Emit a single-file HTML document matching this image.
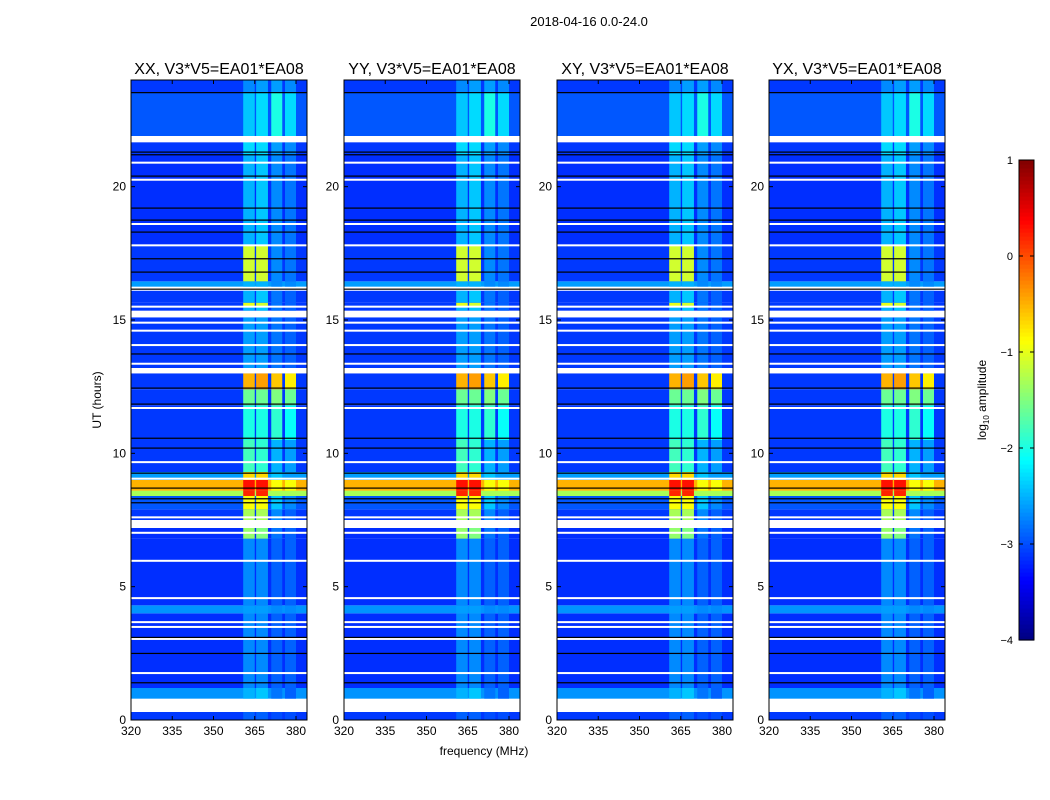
<!DOCTYPE html>
<html><head><meta charset="utf-8"><style>
body{margin:0;background:#fff;}
svg{display:block;font-family:"Liberation Sans","DejaVu Sans",sans-serif;}
</style></head><body>
<svg id="fig" width="1050" height="800" viewBox="0 0 1050 800" xmlns="http://www.w3.org/2000/svg">
<rect width="1050" height="800" fill="#fff"/>
<text x="589" y="26" font-size="13" text-anchor="middle">2018-04-16 0.0-24.0</text>
<text x="484" y="755" font-size="12" text-anchor="middle">frequency (MHz)</text>
<text transform="translate(101,400) rotate(-90)" font-size="12" text-anchor="middle">UT (hours)</text>
<g id="panels"></g>
<g id="cbar"></g>
</svg>
<script>
const panelNames = ["XX, V3*V5=EA01*EA08","YY, V3*V5=EA01*EA08","XY, V3*V5=EA01*EA08","YX, V3*V5=EA01*EA08"];
const xTicks = [320,335,350,365,380];
const yTicks = [0,5,10,15,20];
const cbarTicks = [1,0,-1,-2,-3,-4];
const bandEdges = [[360.8,365.0],[365.5,369.8],[371.0,375.0],[376.0,380.0]];
const segStart = [0,0.3,0.8,1.2,4.0,4.3,6.8,7.2,7.5,7.9,8.4,8.6,9.0,9.3,10.5,11.8,12.4,13.0,13.2,15.1,15.35,15.5,15.65,16.1,16.25,16.45,17.8,21.2,21.7,21.9,23.55];
const segEnd   = [0.3,0.8,1.2,4.0,4.3,6.8,7.2,7.5,7.9,8.4,8.6,9.0,9.3,10.5,11.8,12.4,13.0,13.2,15.1,15.35,15.5,15.65,16.1,16.25,16.45,17.8,21.2,21.7,21.9,23.55,24];
const segBg    = [-3.1,null,-2.65,-3.15,-2.65,-3.15,-3.15,null,-3.1,-2.95,-1.3,-0.5,-2.6,-3.1,-3.1,-3.1,-3.1,null,-3.1,null,-3.1,-3.1,-3.1,null,-2.6,-3.1,-3.15,-3.1,null,-2.95,-3.1];
const segB1    = [-2.9,null,-2.5,-2.7,-2.6,-2.7,-1.4,null,-1.3,-0.9,0.2,0.3,-0.7,-1.8,-2.0,-1.6,-0.5,null,-2.6,null,-2.5,-1.0,-2.5,null,-2.5,-1.1,-2.5,-2.3,null,-2.4,-2.7];
const segB2    = [-2.9,null,-2.4,-2.7,-2.6,-2.7,-1.5,null,-1.3,-0.9,0.2,0.3,-0.7,-1.9,-2.0,-1.6,-0.4,null,-2.6,null,-2.4,-1.1,-2.4,null,-2.5,-1.1,-2.4,-2.3,null,-2.3,-2.6];
const segB3    = [-3.0,null,-2.8,-2.9,-2.7,-2.9,-2.8,null,-2.7,-2.4,-1.3,-0.9,-2.4,-2.5,-1.9,-1.5,-0.6,null,-2.8,null,-2.8,-2.8,-2.8,null,-2.7,-2.7,-2.7,-2.6,null,-2.0,-2.6];
const segB4    = [-3.0,null,-2.9,-2.9,-2.7,-2.9,-2.9,null,-2.9,-2.7,-1.3,-0.9,-2.6,-2.6,-2.1,-1.6,-0.8,null,-2.9,null,-2.9,-2.9,-2.9,null,-2.7,-2.8,-2.8,-2.7,null,-2.3,-2.7];
const whiteLines = [21.7,20.9,20.26,18.6,17.8,15.5,14.9,14.6,14.06,13.36,11.7,9.67,9.05,7.6,7.02,5.97,4.57,3.67,3.49,3.04,1.76];
const blackLines = [23.53,21.3,21.2,20.4,19.2,18.75,18.3,17.3,16.8,16.16,13.73,12.45,11.85,10.57,10.2,9.26,8.7,8.3,8.15,3.1,2.5,1.4];

function jet(v){
  let t=Math.max(0,Math.min(1,(v+4)/5));
  const c=x=>Math.round(255*Math.max(0,Math.min(1,x)));
  const r=c(Math.min(4*t-1.5,-4*t+4.5)), g=c(Math.min(4*t-0.5,-4*t+3.5)), b=c(Math.min(4*t+0.5,-4*t+2.5));
  return `rgb(${r},${g},${b})`;
}
const NS="http://www.w3.org/2000/svg";
function mk(tag,attrs,parent){const e=document.createElementNS(NS,tag);for(const k in attrs)e.setAttribute(k,attrs[k]);parent.appendChild(e);return e;}
const panelLefts=[131,344,557,769], pw=176, pTop=80, pBot=720;
const panelsG=document.getElementById('panels');
panelLefts.forEach((L,pi)=>{
  const xs=f=>L+(f-320)*(pw/64);
  const ys=h=>pBot-(h/24)*(pBot-pTop);
  const g=mk('g',{},panelsG);
  
  
  const bands=[segB1,segB2,segB3,segB4];
  for(let i=0;i<segStart.length;i++){
    const y0=ys(segEnd[i]), h=ys(segStart[i])-y0;
    if(segBg[i]===null){const r=mk('rect',{x:L,y:y0,width:pw,height:h,fill:'#fff'},g);
      
      
      continue;}
    const r=mk('rect',{x:L,y:y0,width:pw,height:h,fill:jet(segBg[i])},g);
    
    
    bandEdges.forEach((be,bi)=>{
      const c=mk('rect',{x:xs(be[0]),y:y0,width:xs(be[1])-xs(be[0]),height:h,fill:jet(bands[bi][i])},g);
      
      
    });
  }
  whiteLines.forEach(h=>{const l=mk('rect',{x:L,y:ys(h)-1,width:pw,height:2,fill:'#fff'},g);
    
    });
  blackLines.forEach(h=>{const l=mk('rect',{x:L,y:ys(h)-0.5,width:pw,height:1.2,fill:'#000'},g);
    
    });
  mk('rect',{x:L,y:pTop,width:pw,height:pBot-pTop,fill:'none',stroke:'#000','stroke-width':1},g);
  const t=mk('text',{x:L+pw/2,y:74,'font-size':16,'text-anchor':'middle'},g);t.textContent=panelNames[pi];
  
  
  xTicks.forEach(v=>{const x=xs(v);
    mk('line',{x1:x,x2:x,y1:pBot,y2:pBot-4,stroke:'#000'},g);mk('line',{x1:x,x2:x,y1:pTop,y2:pTop+4,stroke:'#000'},g);
    const tx=mk('text',{x:x,y:pBot+15,'font-size':12,'text-anchor':'middle'},g);tx.textContent=v;
    
    });
  yTicks.forEach(v=>{const y=ys(v);
    mk('line',{x1:L,x2:L+4,y1:y,y2:y,stroke:'#000'},g);mk('line',{x1:L+pw,x2:L+pw-4,y1:y,y2:y,stroke:'#000'},g);
    const tx=mk('text',{x:L-5,y:y+4,'font-size':12,'text-anchor':'end'},g);tx.textContent=v;
    
    });
});
const cb=document.getElementById('cbar');


const cbX=1019,cbW=15,cbTop=160,cbBot=640;
const cy=v=>cbBot-(v+4)/5*(cbBot-cbTop);
for(let i=0;i<120;i++){const v0=-4+5*i/120,v1=-4+5*(i+1)/120;
  mk('rect',{x:cbX,y:cy(v1),width:cbW,height:cy(v0)-cy(v1)+0.6,fill:jet((v0+v1)/2)},cb);}
mk('rect',{x:cbX,y:cbTop,width:cbW,height:cbBot-cbTop,fill:'none',stroke:'#000'},cb);
cbarTicks.forEach(v=>{const y=cy(v);mk('line',{x1:cbX,x2:cbX+4,y1:y,y2:y,stroke:'#000'},cb);
  mk('line',{x1:cbX+cbW,x2:cbX+cbW-4,y1:y,y2:y,stroke:'#000'},cb);
  const t=mk('text',{x:1013,y:y+4,'font-size':11,'text-anchor':'end'},cb);t.textContent=v<0?'\u2212'+(-v):v;
  
  });
const lab=mk('text',{transform:'translate(986,400) rotate(-90)','font-size':12,'text-anchor':'middle'},cb);
lab.innerHTML='log<tspan font-size="8" dy="3">10</tspan><tspan dy="-3"> amplitude</tspan>';


</script>
</body></html>
